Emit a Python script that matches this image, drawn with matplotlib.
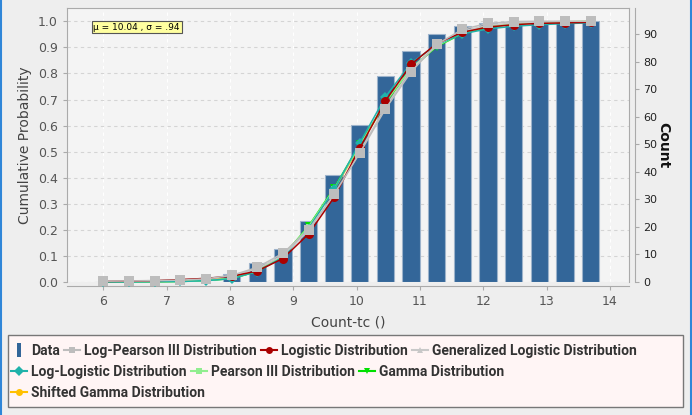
import numpy as np
import matplotlib
matplotlib.use("Agg")
import matplotlib.pyplot as plt
from matplotlib.lines import Line2D
from matplotlib.patches import Rectangle

# bin centres of the cumulative histogram
bin_centers = [6.00, 6.405, 6.81, 7.215, 7.62, 8.025, 8.43, 8.835, 9.24, 9.645,
               10.05, 10.455, 10.86, 11.265, 11.67, 12.075, 12.48, 12.885, 13.29, 13.695]
cum_counts = [0, 0, 0, 0, 0, 3, 7, 12, 22, 39, 57, 75, 84, 90, 93, 94, 94, 95, 95, 95]

log_pearson3 = [0.003, 0.004, 0.005, 0.007, 0.012, 0.025, 0.056, 0.110, 0.201, 0.336,
                0.495, 0.664, 0.806, 0.912, 0.969, 0.992, 0.999, 1.0, 1.0, 1.0]
logistic = [0.002, 0.003, 0.005, 0.009, 0.014, 0.022, 0.042, 0.090, 0.184, 0.325,
            0.514, 0.695, 0.835, 0.915, 0.958, 0.978, 0.987, 0.992, 0.994, 0.996]
gen_logistic = [0.003, 0.004, 0.006, 0.009, 0.014, 0.025, 0.050, 0.103, 0.196, 0.333,
                0.500, 0.672, 0.814, 0.910, 0.962, 0.985, 0.994, 0.997, 0.999, 0.999]
log_logistic = [0.0, 0.0, 0.001, 0.002, 0.005, 0.013, 0.040, 0.095, 0.205, 0.355,
                0.534, 0.710, 0.840, 0.910, 0.952, 0.971, 0.981, 0.987, 0.991, 0.994]
pearson3 = [0.0, 0.0, 0.001, 0.002, 0.005, 0.014, 0.041, 0.100, 0.212, 0.358,
            0.525, 0.690, 0.820, 0.905, 0.955, 0.979, 0.991, 0.996, 0.998, 0.999]
gamma = [0.0, 0.0, 0.001, 0.002, 0.005, 0.013, 0.040, 0.098, 0.214, 0.361,
         0.528, 0.688, 0.818, 0.903, 0.953, 0.977, 0.990, 0.995, 0.998, 0.999]
shifted_gamma = [0.0, 0.0, 0.001, 0.003, 0.006, 0.015, 0.042, 0.100, 0.210, 0.355,
                 0.522, 0.688, 0.818, 0.905, 0.955, 0.980, 0.991, 0.996, 0.998, 0.999]

x_ticks = [6, 7, 8, 9, 10, 11, 12, 13, 14]
prob_ticks = [0.0, 0.1, 0.2, 0.3, 0.4, 0.5, 0.6, 0.7, 0.8, 0.9, 1.0]
count_ticks = [0, 10, 20, 30, 40, 50, 60, 70, 80, 90]

# (label, values, color, marker, markersize)
series = [
    ("Shifted Gamma Distribution", shifted_gamma, "#FFC000", "o", 4),
    ("Gamma Distribution", gamma, "#00E000", "v", 6),
    ("Pearson III Distribution", pearson3, "#90EE90", "s", 5),
    ("Log-Logistic Distribution", log_logistic, "#20B2AA", "D", 5),
    ("Generalized Logistic Distribution", gen_logistic, "#C8C8C8", "^", 6),
    ("Logistic Distribution", logistic, "#AA0000", "o", 6.5),
    ("Log-Pearson III Distribution", log_pearson3, "#BDBDBD", "s", 7),
]

W, H = 692, 415
fig = plt.figure(figsize=(W / 100, H / 100), dpi=100, facecolor="#EEEEEE")
rect = [67 / W, 1 - 282 / H, (629 - 67) / W, (282 - 8) / H]

tick_col = "#555555"
frame_col = "#AAAAAA"

ax = fig.add_axes(rect)
ax.set_facecolor("#F4F4F4")
ax.set_xlim(5.427, 14.30)
ax.set_ylim(0, 1.051)
ax.set_yticks(prob_ticks)
ax.set_yticklabels(["%.1f" % v for v in prob_ticks])
ax.set_xticks(x_ticks)
ax.grid(axis="y", color="#D4D4D4", linestyle=(0, (3, 3)), linewidth=0.8)
ax.grid(axis="x", color="#FFFFFF", linestyle=(0, (3, 3)), linewidth=0.8)
ax.tick_params(axis="both", colors=frame_col, labelcolor=tick_col, labelsize=9, length=3)
for s in ax.spines.values():
    s.set_color(frame_col)
ax.spines["bottom"].set_position(("outward", 3))
ax.set_ylabel("Cumulative Probability", fontsize=10, color="#444444", labelpad=4)
ax.set_xlabel("Count-tc ()", fontsize=10, color="#444444", labelpad=5)

# counts on the right axis
ax2 = ax.twinx()
ax2.set_ylim(0, 99.6)
ax2.set_yticks(count_ticks)
ax2.bar(bin_centers, cum_counts, width=0.274, color="#336699",
        edgecolor="#9DB3CB", linewidth=0.8, zorder=2)
ax2.tick_params(axis="y", colors=frame_col, labelcolor="#222222", labelsize=8, length=3)
for s in ax2.spines.values():
    s.set_visible(False)
ax2.spines["right"].set_visible(True)
ax2.spines["right"].set_color(frame_col)
ax2.spines["right"].set_position(("outward", 4))
ax2.set_ylabel("Count", fontsize=10, fontweight="bold", rotation=-90,
               labelpad=9, color="#111111")

# fitted curves on a third transparent axes sharing the probability scale
ax3 = fig.add_axes(rect, sharex=ax, sharey=ax)
ax3.patch.set_visible(False)
ax3.axis("off")
for label, vals, col, mk, ms in series:
    ax3.plot(bin_centers, vals, color=col, marker=mk, markersize=ms, linewidth=1.1,
             markeredgewidth=0, clip_on=False)

ax3.text(0.047, 0.93, "\u03bc = 10.04 , \u03c3 = .94", transform=ax.transAxes,
         fontsize=6.5, va="center", ha="left", color="black",
         bbox=dict(boxstyle="square,pad=0.2", fc="#FFFFA0", ec="#555555", lw=0.8))

# legend box
fig.add_artist(Rectangle((8 / W, 1 - 407 / H), (683 - 8) / W, (407 - 335) / H,
                         transform=fig.transFigure, facecolor="#FFF5F5",
                         edgecolor="#777777", linewidth=1))

bar_marker = [(-0.35, -1), (0.35, -1), (0.35, 1), (-0.35, 1), (-0.35, -1)]
handles = {"Data": Line2D([], [], linestyle="none", marker=bar_marker,
                          markersize=10, color="#336699", markeredgewidth=0)}
for label, vals, col, mk, ms in series:
    handles[label] = Line2D([], [], color=col, marker=mk, markersize=5,
                            linewidth=1.5, markeredgewidth=0)

rows = [
    ["Data", "Log-Pearson III Distribution", "Logistic Distribution",
     "Generalized Logistic Distribution"],
    ["Log-Logistic Distribution", "Pearson III Distribution", "Gamma Distribution"],
    ["Shifted Gamma Distribution"],
]
row_y = [351, 372, 393]
leg_font = {"family": ["Roboto", "DejaVu Sans"], "weight": "bold", "size": 10}
for names, yy in zip(rows, row_y):
    leg = fig.legend([handles[n] for n in names], names, loc="center left",
                     bbox_to_anchor=(11 / W, 1 - yy / H), ncol=len(names), frameon=False,
                     prop=leg_font, handlelength=1.15, handletextpad=0.3,
                     columnspacing=0.3, borderpad=0, borderaxespad=0)
    for t in leg.get_texts():
        t.set_color("#333333")

# window edges
fig.add_artist(Line2D([1 / W, 1 / W], [0, 1], transform=fig.transFigure,
                      color="#2F86D8", linewidth=1.5))
fig.add_artist(Line2D([1 - 1 / W, 1 - 1 / W], [0, 1], transform=fig.transFigure,
                      color="#2F86D8", linewidth=1.5))

fig.savefig("out.png", dpi=100, facecolor=fig.get_facecolor())
